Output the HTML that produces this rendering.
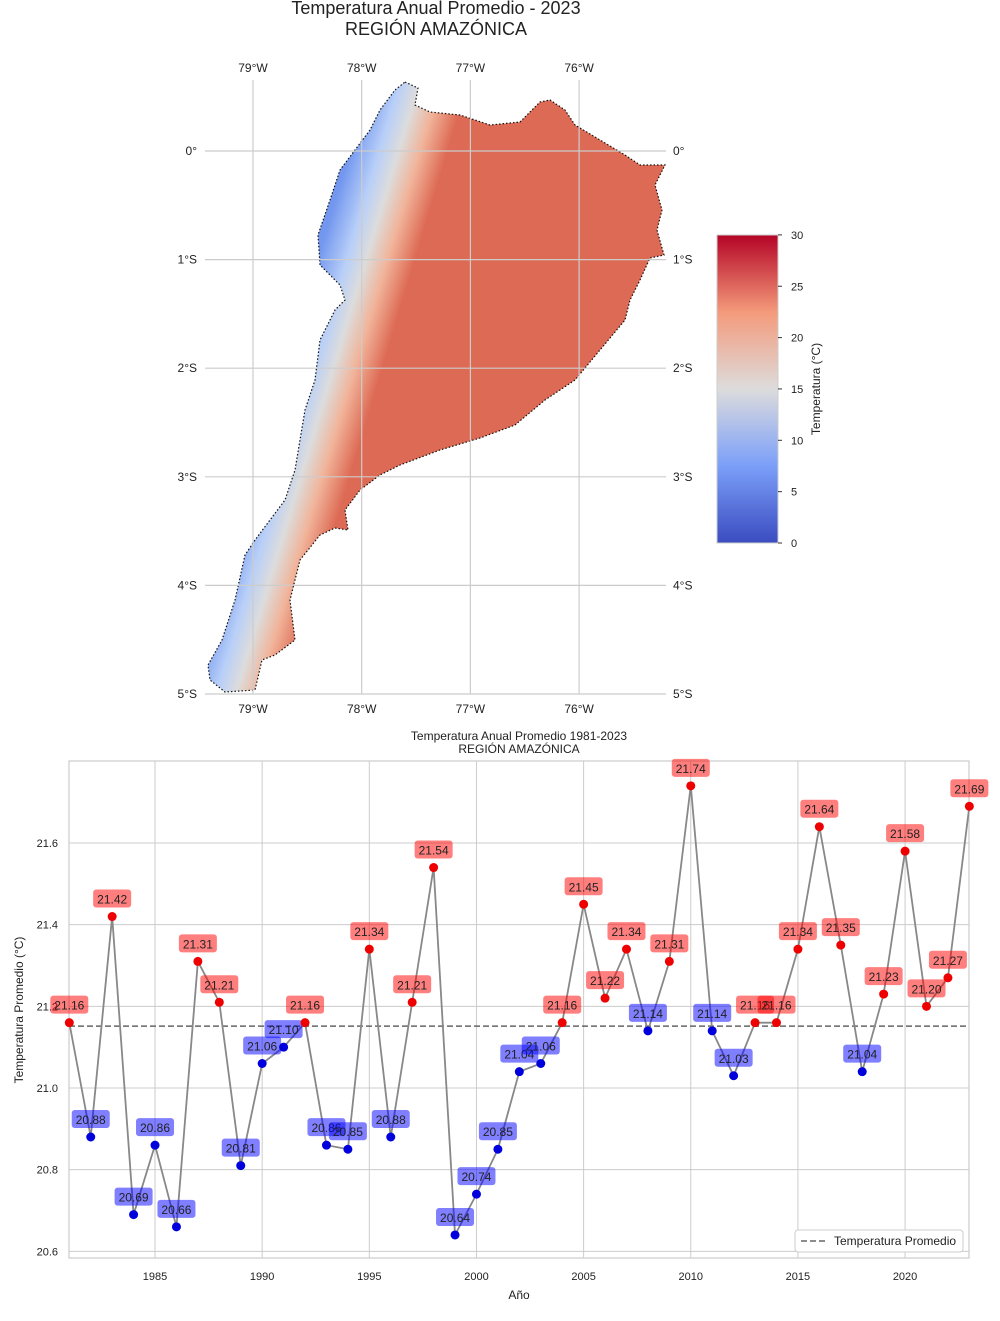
<!DOCTYPE html>
<html><head><meta charset="utf-8"><style>
body{margin:0;background:#fff;font-family:"Liberation Sans",sans-serif}
svg text{font-family:"Liberation Sans",sans-serif}
</style></head><body>
<svg id="s" width="1000" height="1316" xmlns="http://www.w3.org/2000/svg">
<defs>
<linearGradient id="mapg" gradientUnits="userSpaceOnUse" x1="335" y1="200" x2="425" y2="227">
<stop offset="0" stop-color="#7397ef"/><stop offset="0.3" stop-color="#b8cff8"/><stop offset="0.5" stop-color="#dcdcdc"/><stop offset="0.72" stop-color="#f1b49a"/><stop offset="1" stop-color="#dd6a54"/>
</linearGradient>
<linearGradient id="cbg" x1="0" y1="1" x2="0" y2="0">
<stop offset="0" stop-color="#3b4cc0"/><stop offset="0.25" stop-color="#7b9ff9"/><stop offset="0.5" stop-color="#dddcdc"/><stop offset="0.75" stop-color="#f49a7b"/><stop offset="1" stop-color="#b40426"/>
</linearGradient>
</defs>
<text x="436" y="14" font-size="18" text-anchor="middle" fill="#222">Temperatura Anual Promedio - 2023</text>
<text x="436" y="35" font-size="18" text-anchor="middle" fill="#222">REGIÓN AMAZÓNICA</text>
<g id="map"></g>
<g id="cb"></g>
<g id="chart"></g>
</svg>
<script>
const NS="http://www.w3.org/2000/svg";
function mk(p,t,a,txt){const e=document.createElementNS(NS,t);for(const k in a)e.setAttribute(k,a[k]);if(txt!==undefined)e.textContent=txt;p.appendChild(e);return e;}
// ---- map ----
const map=document.getElementById('map');
const lonTicks=[-79,-78,-77,-76], latTicks=[0,-1,-2,-3,-4,-5];
const lonX=l=>253+(l+79)*108.7, latY=l=>151-l*108.6;
const outline=[[405,82],[418,88],[415,105],[430,112],[460,115],[490,125],[520,122],[540,102],[550,100],[565,110],[575,125],[600,140],[625,155],[640,165],[665,165],[655,185],[662,210],[657,230],[664,255],[650,258],[640,280],[630,300],[625,320],[600,350],[575,380],[545,400],[515,425],[480,438],[440,450],[400,465],[380,475],[360,490],[345,510],[348,530],[335,528],[320,535],[300,560],[290,600],[295,640],[275,655],[262,660],[255,690],[225,692],[210,680],[208,665],[222,640],[235,600],[245,555],[255,540],[270,520],[285,500],[295,470],[300,440],[305,410],[315,380],[320,340],[335,310],[345,300],[340,285],[320,265],[318,235],[330,200],[340,170],[355,150],[370,130],[380,110],[395,90]];
const poly=mk(map,'polygon',{points:outline.map(p=>p.join(',')).join(' '),fill:'url(#mapg)',stroke:'#111','stroke-width':1.2,'stroke-dasharray':'1.5,2'});


lonTicks.forEach(l=>{const x=lonX(l);
 mk(map,'line',{x1:x,y1:80,x2:x,y2:694,stroke:'#ccc','stroke-width':1.2});
 mk(map,'text',{x:x,y:72,'font-size':12,'text-anchor':'middle',fill:'#222'},Math.abs(l)+'°W');
 mk(map,'text',{x:x,y:713,'font-size':12,'text-anchor':'middle',fill:'#222'},Math.abs(l)+'°W');});
latTicks.forEach(l=>{const y=latY(l);const lab=l==0?'0°':Math.abs(l)+'°S';
 mk(map,'line',{x1:205,y1:y,x2:666,y2:y,stroke:'#ccc','stroke-width':1.2});
 mk(map,'text',{x:197,y:y+4,'font-size':12,'text-anchor':'end',fill:'#222'},lab);
 mk(map,'text',{x:673,y:y+4,'font-size':12,fill:'#222'},lab);});
// ---- colorbar ----
const cb=document.getElementById('cb');
const cbTicks=[0,5,10,15,20,25,30];
mk(cb,'rect',{x:717,y:235,width:61,height:308,fill:'url(#cbg)',stroke:'#ccc'});
cbTicks.forEach(v=>{const y=543-v*10.27;mk(cb,'line',{x1:778,y1:y,x2:782,y2:y,stroke:'#333'});mk(cb,'text',{x:791,y:y+4,'font-size':11,fill:'#222'},v);});
mk(cb,'text',{x:820,y:389,'font-size':12,fill:'#222','text-anchor':'middle',transform:'rotate(-90 820 389)'},'Temperatura (°C)');
// ---- time series ----
const years=[];for(let y=1981;y<=2023;y++)years.push(y);
const temps=[21.16,20.88,21.42,20.69,20.86,20.66,21.31,21.21,20.81,21.06,21.10,21.16,20.86,20.85,21.34,20.88,21.21,21.54,20.64,20.74,20.85,21.04,21.06,21.16,21.45,21.22,21.34,21.14,21.31,21.74,21.14,21.03,21.16,21.16,21.34,21.64,21.35,21.04,21.23,21.58,21.20,21.27,21.69];
const yTicks=[20.6,20.8,21.0,21.2,21.4,21.6];
const xTicks=[1985,1990,1995,2000,2005,2010,2015,2020];
const meanT=temps.reduce((a,b)=>a+b,0)/temps.length;
const X=y=>69.3+(y-1981)*21.43, Y=v=>1088-(v-21.0)*408.3;
const ch=document.getElementById('chart');
mk(ch,'text',{x:519,y:740,'font-size':12,'text-anchor':'middle',fill:'#222'},'Temperatura Anual Promedio 1981-2023');
mk(ch,'text',{x:519,y:753,'font-size':12,'text-anchor':'middle',fill:'#222'},'REGIÓN AMAZÓNICA');
yTicks.forEach(v=>{const y=Y(v);mk(ch,'line',{x1:69,y1:y,x2:969,y2:y,stroke:'#ccc'});mk(ch,'text',{x:58,y:y+4,'font-size':11,'text-anchor':'end',fill:'#222'},v.toFixed(1));});
xTicks.forEach(v=>{const x=X(v);mk(ch,'line',{x1:x,y1:761,x2:x,y2:1258,stroke:'#ccc'});mk(ch,'text',{x:x,y:1280,'font-size':11,'text-anchor':'middle',fill:'#222'},v);});
mk(ch,'rect',{x:69,y:761,width:900,height:497,fill:'none',stroke:'#ccc','stroke-width':1.2});
mk(ch,'text',{x:519,y:1299,'font-size':12,'text-anchor':'middle',fill:'#222'},'Año');
mk(ch,'text',{x:23,y:1010,'font-size':12,'text-anchor':'middle',fill:'#222',transform:'rotate(-90 23 1010)'},'Temperatura Promedio (°C)');
const ml=mk(ch,'line',{x1:69,y1:Y(meanT),x2:969,y2:Y(meanT),stroke:'#666','stroke-width':1.5,'stroke-dasharray':'6,3'});


const ln=mk(ch,'polyline',{points:years.map((y,i)=>X(y)+','+Y(temps[i])).join(' '),fill:'none',stroke:'#888','stroke-width':1.8});


years.forEach((yr,i)=>{const v=temps[i],x=X(yr),y=Y(v),hi=v>meanT;
 const c=mk(ch,'circle',{cx:x,cy:y,r:4.5,fill:hi?'#e00':'#00d'});
 
 
 const g=mk(ch,'g',{});
 
 
 mk(g,'rect',{x:x-19,y:y-27,width:38,height:18,rx:3,fill:hi?'#ff0000':'#0000ff','fill-opacity':0.5});
 mk(g,'text',{x:x,y:y-13,'font-size':12,'text-anchor':'middle',fill:'#222'},v.toFixed(2));});
const lg=mk(ch,'g',{});


mk(lg,'rect',{x:795,y:1230,width:168,height:22,rx:3,fill:'#fff',stroke:'#ccc'});
mk(lg,'line',{x1:801,y1:1241,x2:826,y2:1241,stroke:'#666','stroke-width':1.5,'stroke-dasharray':'6,3'});
mk(lg,'text',{x:834,y:1245,'font-size':12,fill:'#222'},'Temperatura Promedio');
</script>
</body></html>
